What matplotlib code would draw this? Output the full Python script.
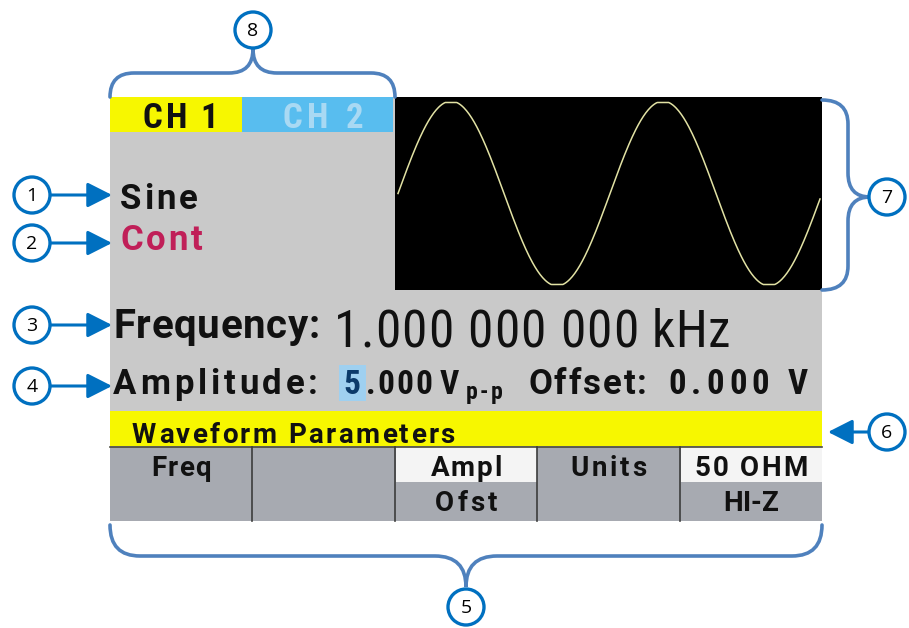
"""Function generator front-panel screen with numbered callouts."""

import numpy as np
import matplotlib
matplotlib.use("Agg")
import matplotlib.pyplot as plt
import matplotlib.patches as mpatches
from matplotlib.path import Path
from matplotlib import font_manager as fm
from matplotlib.ft2font import FT2Font

# ---- screen content ----
channel_tabs = ["CH 1", "CH 2"]
waveform_name = "Sine"
run_mode = "Cont"
freq_label = "Frequency:"
freq_value = "1.000 000 000"
freq_unit = "kHz"
ampl_label = "Amplitude:"
ampl_digit = "5"
ampl_rest = ".000"
ampl_unit = "V"
ampl_sub = "p-p"
offset_label = "Offset:"
offset_value = "0.000 V"
banner = "Waveform Parameters"
menu_top = ["Freq", "", "Ampl", "Units", "50 OHM"]
menu_bottom = ["", "", "Ofst", "", "HI-Z"]
menu_selected = [False, False, True, False, True]
wave_cycles = 2
callouts = ["1", "2", "3", "4", "5", "6", "7", "8"]

# ---- colours ----
BLUE = "#0070c0"
BRACE = "#4f81bd"
YELLOW = "#f7f700"
TAB2 = "#58bdef"
TAB2_TXT = "#a9d9f3"
SCREEN = "#c9c9c9"
MENU = "#a7aab1"
WHITE = "#f4f4f4"
CONT = "#c01f58"
TRACE = "#e2e2a4"
INK = "#111111"

names = {f.name for f in fm.fontManager.ttflist}
WIDE = "Roboto" if "Roboto" in names else "DejaVu Sans"
NARROW = "Roboto Condensed" if "Roboto Condensed" in names else "DejaVu Sans"
ROUND = "Open Sans" if "Open Sans" in names else "DejaVu Sans"

fig = plt.figure(figsize=(9.09, 6.28), dpi=100)
ax = fig.add_axes([0, 0, 1, 1])
ax.set_xlim(0, 909)
ax.set_ylim(628, 0)
ax.axis("off")


def advances(s, size, weight, family):
    """glyph advance widths in pixels (dpi 100)"""
    font = FT2Font(fm.findfont(fm.FontProperties(family=family, weight=weight)))
    font.set_size(size, 100)
    return [font.load_char(ord(c)).linearHoriAdvance / 65536 for c in s]


def spread(x0, x1, y, s, size, color=INK, weight="bold", family=WIDE):
    """LCD-style text: place glyphs one by one so the string spans x0..x1."""
    adv = advances(s, size, weight, family)
    track = (x1 - x0 - sum(adv)) / max(len(s) - 1, 1)
    x = x0
    for c, a in zip(s, adv):
        if c != " ":
            ax.text(x, y, c, fontsize=size, color=color, fontweight=weight,
                    ha="left", va="baseline", family=family)
        x += a + track


def rect(x0, y0, x1, y1, color, **kw):
    ax.add_patch(mpatches.Rectangle((x0, y0), x1 - x0, y1 - y0, facecolor=color,
                                    edgecolor="none", **kw))


# screen background
rect(110, 97, 822, 521, SCREEN)
rect(110, 97, 242, 132, YELLOW)
rect(242, 97, 393, 132, TAB2)
spread(143, 218, 128, channel_tabs[0], 25, family=NARROW)
spread(282, 363, 128, channel_tabs[1], 25, color=TAB2_TXT, family=NARROW)

# waveform box
rect(395, 97, 822, 290, "black")
wx = np.linspace(398, 820, 500)
wy = 193.5 - 91 * np.clip(1.015 * np.sin(2 * np.pi * wave_cycles * (wx - 398) / (822 - 398)), -1, 1)
ax.plot(wx, wy, color=TRACE, lw=1.1)

spread(120, 198, 209, waveform_name, 25)
spread(120, 203, 250, run_mode, 25, color=CONT)

# frequency line
spread(113, 320, 338, freq_label, 29)
spread(334, 638, 347, freq_value, 37, weight="normal", family=NARROW)
spread(652, 730, 347, freq_unit, 37, weight="normal", family=NARROW)

# amplitude line
rect(339, 365, 366, 401, "#9fd0f0")
spread(113, 318, 394, ampl_label, 25)
spread(343, 361, 394, ampl_digit, 24, color="#0b3a6a", family=NARROW)
spread(366, 432, 394, ampl_rest, 24, family=NARROW)
spread(440, 462, 394, ampl_unit, 24, family=NARROW)
spread(466, 502, 399, ampl_sub, 17, family=NARROW)
spread(528, 647, 394, offset_label, 25)
spread(668, 808, 394, offset_value, 25, family=NARROW)

# banner
rect(110, 411, 822, 446, YELLOW)
ax.plot([110, 822], [446.5, 446.5], color="#4a4a3a", lw=1.2)
spread(132, 455, 443, banner, 20)

# soft-key menu
top_span = {"Freq": 60, "Ampl": 71, "Units": 77, "50 OHM": 113}
bot_span = {"Ofst": 62, "HI-Z": 56}
edges = np.linspace(110, 822, len(menu_top) + 1)
for i, (top, bot, sel) in enumerate(zip(menu_top, menu_bottom, menu_selected)):
    x0, x1 = edges[i], edges[i + 1]
    rect(x0, 447, x1, 521, MENU)
    if sel:
        rect(x0 + 1, 447, x1, 482, WHITE)
    cx = (x0 + x1) / 2
    if top:
        w = top_span[top]
        spread(cx - w / 2, cx + w / 2, 476, top, 20)
    if bot:
        w = bot_span[bot]
        spread(cx - w / 2, cx + w / 2, 511, bot, 20)
    if i > 0:
        ax.plot([x0, x0], [447, 521], color="#3c3c3c", lw=1.2)


# ---- callouts ----
def circle(x, y, label):
    ax.add_patch(mpatches.Circle((x, y), 18, facecolor="white", edgecolor=BLUE, lw=2.4, zorder=5))
    ax.text(x, y + 1, label, fontsize=14, ha="center", va="center", family=ROUND, zorder=6)


def arrow(x0, x1, y):
    ax.annotate("", xy=(x1, y), xytext=(x0, y),
                arrowprops=dict(arrowstyle="-|>,head_length=0.75,head_width=0.38",
                                color=BLUE, lw=2.2, mutation_scale=20, shrinkA=0, shrinkB=0))


def brace(verts, codes):
    ax.add_patch(mpatches.PathPatch(Path(verts, codes), facecolor="none",
                                    edgecolor=BRACE, lw=2.6, capstyle="round"))


M, L, C = Path.MOVETO, Path.LINETO, Path.CURVE3
left_y = [195, 243, 325, 386]
for lab, y in zip(callouts[:4], left_y):
    circle(32, y, lab)
    arrow(50, 112, y)

# 8: top brace
brace([(110, 97), (110, 73), (134, 73), (229, 73), (253, 73), (253, 49),
       (253, 73), (277, 73), (371, 73), (395, 73), (395, 97)],
      [M, C, C, L, C, C, C, C, L, C, C])
circle(253, 30, callouts[7])

# 7: right brace
brace([(822, 100), (848, 100), (848, 124), (848, 173), (848, 197), (870, 197),
       (848, 197), (848, 221), (848, 266), (848, 290), (822, 290)],
      [M, C, C, L, C, C, C, C, L, C, C])
circle(887, 197, callouts[6])

# 6: banner arrow
circle(887, 432, callouts[5])
arrow(869, 828, 432)

# 5: bottom brace
brace([(110, 525), (110, 556), (140, 556), (435, 556), (466, 556), (466, 587),
       (466, 556), (497, 556), (792, 556), (822, 556), (822, 525)],
      [M, C, C, L, C, C, C, C, L, C, C])
circle(466, 607, callouts[4])

fig.savefig("out.png", dpi=100)
plt.close(fig)
